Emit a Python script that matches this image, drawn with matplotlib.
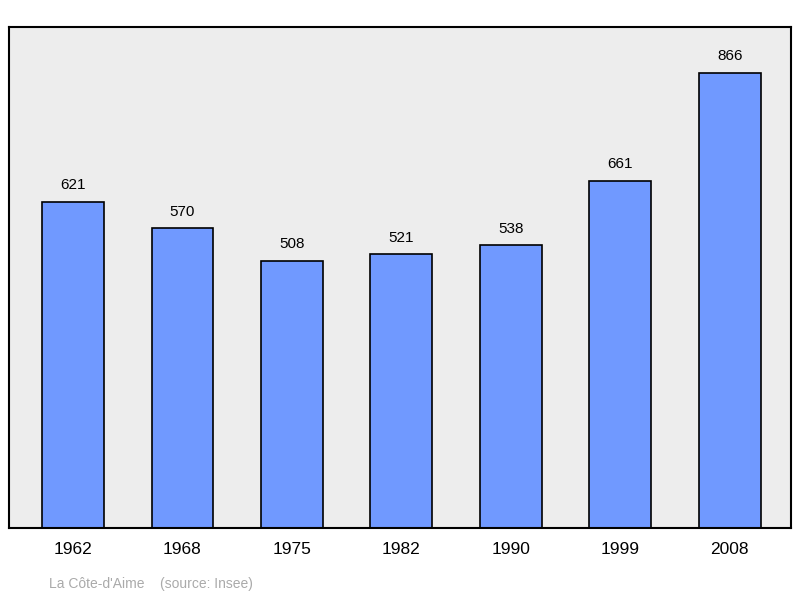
import matplotlib
matplotlib.use("Agg")
import matplotlib.pyplot as plt

years = ["1962", "1968", "1975", "1982", "1990", "1999", "2008"]
population = [621, 570, 508, 521, 538, 661, 866]

fig = plt.figure(figsize=(8, 5.98), dpi=100)
ax = fig.add_axes([9/800, 1-528/598, 782/800, 501/598])
ax.set_facecolor("#ededed")
x = list(range(len(years)))
ax.bar(x, population, width=0.566, color="#7099ff", edgecolor="black", linewidth=1.2, zorder=2)
for xi, v in zip(x, population):
    ax.text(xi, v + 18, str(v), ha="center", va="bottom", fontsize=11, family="Liberation Sans")
ax.set_xlim(-0.585, 6.56)
ax.set_ylim(0, 953)
ax.set_yticks([])
ax.set_xticks(x)
ax.set_xticklabels(years, fontsize=12.5, family="Liberation Sans")
ax.tick_params(axis="x", length=0, pad=10)
for s in ax.spines.values():
    s.set_linewidth(1.5)
fig.text(49/800, 1-584/598, "La Côte-d'Aime    (source: Insee)", fontsize=10, color="#aaaaaa",
         family="Liberation Sans", va="center")
fig.savefig("out.png", dpi=100)
